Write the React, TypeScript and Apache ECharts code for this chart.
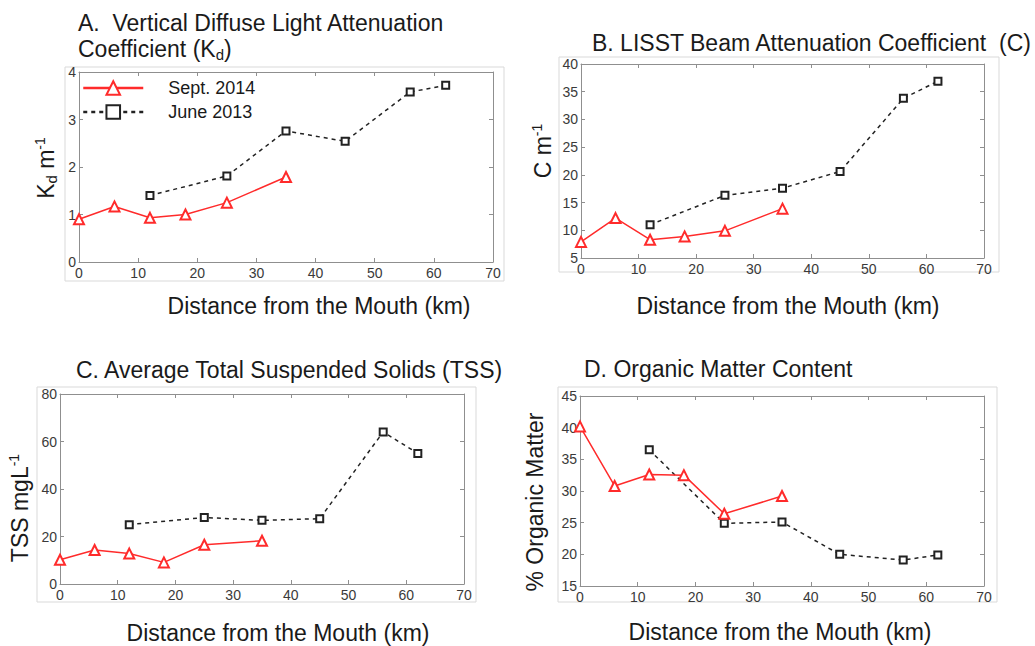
import React, { useEffect, useRef } from "react";
import * as echarts from "echarts";

// Distance from the mouth (km)
const sepDistance = [0, 6, 12, 18, 25, 35];
const junDistance = [12, 25, 35, 45, 56, 62];

// A. Kd (m^-1)
const kdSept = [0.9, 1.17, 0.93, 1.0, 1.25, 1.79];
const kdJune = [1.4, 1.81, 2.76, 2.54, 3.58, 3.72];
// B. LISST beam attenuation C (m^-1)
const cSept = [7.9, 12.2, 8.3, 8.9, 9.9, 13.9];
const cJune = [11.0, 16.3, 17.6, 20.6, 33.8, 36.9];
// C. TSS (mg/L)
const tssSept = [10.2, 14.3, 12.8, 9.1, 16.5, 18.2];
const tssJune = [25.0, 28.0, 26.8, 27.5, 64.0, 55.0];
// D. Organic matter (%)
const omSept = [40.2, 30.8, 32.6, 32.5, 26.4, 29.2];
const omJune = [36.5, 24.9, 25.1, 20.0, 19.1, 19.9];

const seriesNames = ["Sept. 2014", "June 2013"];
const xRange = { min: 0, max: 70, interval: 10 };
const yRanges = [
  { min: 0, max: 4, interval: 1 },
  { min: 5, max: 40, interval: 5 },
  { min: 0, max: 80, interval: 20 },
  { min: 15, max: 45, interval: 5 },
];

const FONT = "'Liberation Sans', Arial, Helvetica, sans-serif";
const AXIS_COLOR = "#8f8f8f";
const LABEL_COLOR = "#3a3a3a";
const TEXT_COLOR = "#1a1a1a";
const RED = "#ff2b2b";
const BLACK = "#222";

const panels = [
  { grid: { left: 79, top: 72, width: 414, height: 190 }, frame: [65, 67, 439, 214], sept: kdSept, june: kdJune },
  { grid: { left: 581, top: 64, width: 403, height: 194 }, frame: [559, 57, 440, 215], sept: cSept, june: cJune },
  { grid: { left: 60, top: 394, width: 404, height: 190 }, frame: [37, 387, 439, 215], sept: tssSept, june: tssJune },
  { grid: { left: 580, top: 396, width: 404, height: 190 }, frame: [558, 387, 439, 215], sept: omSept, june: omJune },
];

const zip = (xs: number[], ys: number[]) => xs.map((x, i) => [x, ys[i]]);

function App() {
  const ref = useRef<HTMLDivElement>(null);
  useEffect(() => {
    if (!ref.current) return;
    const chart = echarts.init(ref.current, null, { renderer: "svg" });

    const grids: any[] = [];
    const xAxes: any[] = [];
    const yAxes: any[] = [];
    const series: any[] = [];
    const graphics: any[] = [];

    const tick = { show: true, inside: true, length: 4, lineStyle: { color: AXIS_COLOR, width: 1 } };
    const line = { show: true, onZero: false, lineStyle: { color: AXIS_COLOR, width: 1 } };

    panels.forEach((p, i) => {
      grids.push({ ...p.grid, containLabel: false });
      const yr = yRanges[i];
      xAxes.push({
        type: "value", gridIndex: i, position: "bottom", ...xRange,
        axisLine: line, axisTick: tick, splitLine: { show: false },
        axisLabel: { fontSize: 14, color: LABEL_COLOR, margin: 4, fontFamily: FONT },
      });
      xAxes.push({
        type: "value", gridIndex: i, position: "top", ...xRange,
        axisLine: line, axisTick: tick, splitLine: { show: false }, axisLabel: { show: false },
      });
      yAxes.push({
        type: "value", gridIndex: i, position: "left", ...yr,
        axisLine: line, axisTick: tick, splitLine: { show: false },
        axisLabel: { fontSize: 14, color: LABEL_COLOR, margin: 3, fontFamily: FONT },
      });
      yAxes.push({
        type: "value", gridIndex: i, position: "right", ...yr,
        axisLine: line, axisTick: tick, splitLine: { show: false }, axisLabel: { show: false },
      });
      series.push({
        name: seriesNames[0], type: "line", xAxisIndex: 2 * i, yAxisIndex: 2 * i,
        data: zip(sepDistance, p.sept), symbol: "emptyTriangle", symbolSize: 10,
        lineStyle: { color: RED, width: 1.5 }, itemStyle: { color: RED, borderWidth: 1.3 }, z: 3,
      });
      series.push({
        name: seriesNames[1], type: "line", xAxisIndex: 2 * i, yAxisIndex: 2 * i,
        data: zip(junDistance, p.june), symbol: "emptyRect", symbolSize: 7,
        lineStyle: { color: BLACK, width: 1.5, type: [4, 4] }, itemStyle: { color: BLACK, borderWidth: 1.3 }, z: 2,
      });
      const [fx, fy, fw, fh] = p.frame;
      graphics.push({
        type: "rect", shape: { x: fx, y: fy, width: fw, height: fh }, z: -1,
        style: { fill: "none", stroke: "#d9d9d9", lineWidth: 1 },
      });
    });

    const rich = {
      t: { fontSize: 23, fontFamily: FONT, fill: TEXT_COLOR, lineHeight: 26 },
      s: { fontSize: 15, fontFamily: FONT, fill: TEXT_COLOR, verticalAlign: "bottom", lineHeight: 20 },
      p: { fontSize: 14, fontFamily: FONT, fill: TEXT_COLOR, verticalAlign: "top", lineHeight: 22 },
    };
    const txt = (x: number, y: number, text: string, align = "left", withRich = false) => ({
      type: "text", x, y,
      style: {
        text, fontSize: 23, fontFamily: FONT, fill: TEXT_COLOR,
        align, verticalAlign: "middle", ...(withRich ? { rich } : {}),
      },
    });

    // Titles
    graphics.push(txt(78, 23, "A.  Vertical Diffuse Light Attenuation"));
    graphics.push(txt(78, 49, "{t|Coefficient (K}{s|d}{t|)}", "left", true));
    graphics.push(txt(592, 43, "B. LISST Beam Attenuation Coefficient  (C)"));
    graphics.push(txt(76, 370, "C. Average Total Suspended Solids (TSS)"));
    graphics.push(txt(584, 369, "D. Organic Matter Content"));

    // X axis names
    const xName = "Distance from the Mouth (km)";
    graphics.push(txt(319, 306, xName, "center"));
    graphics.push(txt(788, 306, xName, "center"));
    graphics.push(txt(278, 633, xName, "center"));
    graphics.push(txt(780, 632, xName, "center"));

    // Y axis names (rotated)
    const yName = (x: number, y: number, text: string) => ({
      type: "text", x, y, rotation: Math.PI / 2,
      style: { text, rich, fontSize: 23, fontFamily: FONT, fill: TEXT_COLOR, align: "center", verticalAlign: "middle" },
    });
    graphics.push(yName(46, 168, "{t|K}{s|d}{t| m}{p|-1}"));
    graphics.push(yName(543, 151, "{t|C m}{p|-1}"));
    graphics.push(yName(20, 508, "{t|TSS mgL}{p|-1}"));
    graphics.push(yName(535, 502, "{t|% Organic Matter}"));

    chart.setOption({
      animation: false,
      backgroundColor: "#fff",
      grid: grids,
      xAxis: xAxes,
      yAxis: yAxes,
      series,
      graphic: graphics,
      legend: {
        data: seriesNames,
        orient: "vertical",
        left: 82,
        top: 79,
        padding: 0,
        itemWidth: 60,
        itemHeight: 17,
        itemGap: 6,
        lineStyle: { width: 2.5 },
        textStyle: { fontSize: 18, fontFamily: FONT, color: TEXT_COLOR, padding: [0, 0, 0, 20] },
      },
    });
    return () => chart.dispose();
  }, []);
  return (
    <div
      ref={ref}
      style={{ position: "absolute", left: 0, top: 0, width: 1035, height: 646, background: "#fff" }}
    />
  );
}

export default App;
